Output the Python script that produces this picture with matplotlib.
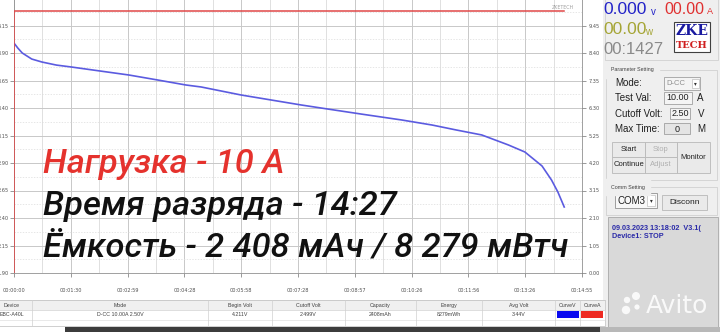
import matplotlib
matplotlib.use('Agg')
import matplotlib.pyplot as plt
from matplotlib.patches import Rectangle, Circle

W, H = 720, 332

# discharge curve (seconds, volts)
t_volt = [0, 6, 13, 28, 44, 67, 90, 136, 181, 226, 271, 295, 358, 453, 494,
          547, 611, 659, 697, 737, 779, 805, 832, 847, 857, 867]
volt = [3.99, 3.945, 3.90, 3.845, 3.818, 3.79, 3.773, 3.736, 3.70, 3.655, 3.609,
        3.591, 3.518, 3.427, 3.391, 3.345, 3.291, 3.245, 3.200, 3.155, 3.064,
        3.00, 2.873, 2.745, 2.636, 2.50]
# load current (seconds, amps)
t_curr = [0, 0, 867]
curr = [0.0, 10.0, 10.0]

x_ticks = [0, 89.5, 179, 268.5, 358, 447.5, 537, 626.5, 716, 805.5, 895]
x_labels = ['00:00:00', '00:01:30', '00:02:59', '00:04:28', '00:05:58', '00:07:28',
            '00:08:57', '00:10:26', '00:11:56', '00:13:26', '00:14:55']
v_ticks = [1.90, 2.15, 2.40, 2.65, 2.90, 3.15, 3.40, 3.65, 3.90, 4.15, 4.40]
v_labels = ['%.2f' % v for v in v_ticks]
c_ticks = [0.0, 1.05, 2.10, 3.15, 4.20, 5.25, 6.30, 7.35, 8.40, 9.45, 10.50]
c_labels = ['%.2f' % c for c in c_ticks]

columns = ['Device', 'Mode', 'Begin Volt', 'Cutoff Volt', 'Capacity', 'Energy',
           'Avg Volt', 'CurveV', 'CurveA']
row = ['EBC-A40L', 'D-CC 10.00A 2.50V', '4.211V', '2.499V', '2408mAh', '8279mWh',
       '3.44V', '', '']
col_edges = [-8, 32, 208, 272, 345, 416, 482, 555, 580, 605]

overlay = [('Нагрузка - 10 А', '#e5322d', 173),
           ('Время разряда - 14:27', '#111111', 215),
           ('Ёмкость - 2 408 мАч / 8 279 мВтч', '#111111', 256)]

UI_FONT = 'Liberation Sans'


def fbox(x0, y0, x1, y1):
    '''pixel box (top-left origin) -> figure fraction [l, b, w, h]'''
    return [x0 / W, 1 - y1 / H, (x1 - x0) / W, (y1 - y0) / H]


fig = plt.figure(figsize=(W / 100, H / 100), dpi=100)
fig.patch.set_facecolor('white')

# pixel-space layer for the window chrome
ui = fig.add_axes([0, 0, 1, 1])
ui.set_xlim(0, W)
ui.set_ylim(H, 0)
ui.axis('off')


def box(x0, y0, x1, y1, fc, ec='none', lw=0.6, z=1):
    ui.add_patch(Rectangle((x0, y0), x1 - x0, y1 - y0, facecolor=fc,
                           edgecolor=ec, linewidth=lw, zorder=z))


def label(x, y, s, size=6.5, color='#202020', ha='left', family=UI_FONT, **kw):
    ui.text(x, y, s, fontsize=size, color=color, ha=ha, va='center',
            family=family, zorder=5, **kw)


# right control panel
box(603, 0, 720, 332, '#efefef')
box(605, -2, 718, 60, 'none', '#d0d0d0')
label(603, 9, '0.000', 12.5, '#2323c8')
label(651, 12, 'v', 7, '#2323c8')
label(664, 9, '00.00', 11.5, '#e03030')
label(707, 12, 'A', 6.5, '#e03030')
label(603, 29, '00.00', 12.5, '#a5a535')
label(645, 32, 'w', 7, '#a5a535')
label(603, 49, '00:1427', 12, '#8a8a8a')
box(674, 22, 710, 52, 'white', '#404040', 0.8)
label(692, 31, 'ZKE', 10, '#1a1aa0', ha='center', weight='bold', family='DejaVu Serif')
label(692, 45, 'TECH', 7, '#d02020', ha='center', weight='bold', family='DejaVu Serif')

# parameter setting group
box(606, 70, 717, 180, 'none', '#d0d0d0')
label(611, 70, 'Parameter Setting', 3.8, '#404040', backgroundcolor='#efefef')
label(615, 83, 'Mode:', 7)
box(664, 77, 700, 90, '#f4f4f4', '#a0a0a0')
label(666, 83.5, 'D-CC', 5.5, '#909090')
box(692, 79, 699, 88, '#ffffff', '#b0b0b0', 0.4)
label(695.5, 83.5, '▾', 4, '#303030', ha='center', family='DejaVu Sans')
label(615, 98, 'Test Val:', 7)
box(664, 92, 692, 104, '#f4f4f4', '#a0a0a0')
label(678, 98, '10.00', 6.5, ha='center')
label(697, 98, 'A', 7)
label(615, 114, 'Cutoff Volt:', 7)
box(670, 108, 690, 119, '#f4f4f4', '#a0a0a0')
label(680, 114, '2.50', 6.5, ha='center')
label(698, 114, 'V', 7)
label(615, 129, 'Max Time:', 7)
box(664, 123, 690, 134, '#e4e4e4', '#a0a0a0')
label(677, 129, '0', 6.5, ha='center')
label(697, 129, 'M', 7)
for (bx0, by0, bx1, by1, txt, col) in [
        (612, 142, 645, 157, 'Start', '#202020'),
        (645, 142, 677, 157, 'Stop', '#b0b0b0'),
        (612, 157, 645, 173, 'Continue', '#202020'),
        (645, 157, 677, 173, 'Adjust', '#b0b0b0'),
        (677, 142, 710, 173, 'Monitor', '#202020')]:
    box(bx0, by0, bx1, by1, '#eaeaea', '#b8b8b8')
    label((bx0 + bx1) / 2, (by0 + by1) / 2, txt, 5.5, col, ha='center')

# comm setting group
box(606, 187, 717, 215, 'none', '#d0d0d0')
label(611, 187, 'Comm Setting', 3.8, '#404040', backgroundcolor='#efefef')
box(615, 193, 657, 208, '#f8f8f8', '#909090')
label(618, 200.5, 'COM3', 7)
box(647, 195, 655, 206, '#ffffff', '#b0b0b0', 0.4)
label(651, 200.5, '▾', 4, '#303030', ha='center', family='DejaVu Sans')
box(662, 195, 707, 210, '#eaeaea', '#b8b8b8')
label(684.5, 202.5, 'Disconn', 6, ha='center')

# log box with watermark
box(608, 217, 718, 327, '#d9d9d9', '#a8a8a8')
label(612, 228, '09.03.2023 13:18:02  V3.1(', 5.2, '#2a2aa8', weight='bold')
label(612, 237, 'Device1: STOP', 5.2, '#2a2aa8', weight='bold')
for (cx, cy, r) in [(627, 300, 3.2), (636, 296, 4.0), (626, 310, 4.2), (637, 307, 2.6)]:
    ui.add_patch(Circle((cx, cy), r, facecolor='white', alpha=0.85, zorder=6))
ui.text(677, 306, 'Avito', fontsize=18, color='white', alpha=0.85, ha='center',
        va='center', family='DejaVu Sans', zorder=6)

# result table
box(-2, 300, 605, 326, 'white', '#c8c8c8')
box(-2, 300, 605, 310, '#f0f0f0', '#c8c8c8')
box(-2, 310, 605, 320, 'white', '#d8d8d8', 0.4)
for i, name in enumerate(columns):
    x0, x1 = col_edges[i], col_edges[i + 1]
    ui.plot([x1, x1], [300, 326], color='#d0d0d0', lw=0.5, zorder=2)
    label((x0 + x1) / 2, 305.5, name, 3.8, '#404040', ha='center')
    label((x0 + x1) / 2, 315, row[i], 3.8, '#404040', ha='center')
box(557, 311, 579, 318, '#0a0af0', z=3)
box(581, 311, 603, 318, '#ee2a22', z=3)
box(65, 327, 600, 334, '#3c3c3c')
box(600, 327, 720, 334, '#b8b8b8')

# the chart itself
ax = fig.add_axes(fbox(14, -2, 582, 273))
ax.set_zorder(1)
ax.set_facecolor('white')
ax.plot(t_volt, volt, color='#5b5be0', lw=1.2, zorder=3)
ax.set_xlim(0, 895)
ax.set_ylim(1.90, 4.40)
ax.set_xticks(x_ticks, x_labels)
ax.set_xticks([x + 44.75 for x in x_ticks[:-1]], minor=True)
ax.set_yticks(v_ticks, v_labels)
ax.set_yticks([v + 0.125 for v in v_ticks[:-1]], minor=True)
ax.grid(which='major', color='#c8c8c8', lw=0.7)
ax.grid(which='minor', axis='x', color='#dadada', lw=0.6)
ax.grid(which='minor', axis='y', color='#dcdcdc', lw=0.5, ls=(0, (2, 2)))
ax.tick_params(axis='both', which='major', labelsize=3.6, labelcolor='#505050',
               color='#707070', length=3, width=0.5, pad=1)
ax.tick_params(axis='both', which='minor', length=0)
ax.tick_params(axis='x', pad=8)
for s in ax.spines.values():
    s.set_color('#909090')
    s.set_linewidth(0.6)
ax.spines['top'].set_visible(False)

ax2 = ax.twinx()
ax2.plot(t_curr, curr, color='#e04848', lw=1.1)
ax2.set_ylim(0, 10.5)
ax2.set_yticks(c_ticks, c_labels)
ax2.tick_params(axis='y', labelsize=3.6, labelcolor='#505050', color='#707070',
                length=3, width=0.5, pad=1.5)
for s in ax2.spines.values():
    s.set_visible(False)
ax.text(0.985, 0.965, 'ZKETECH', transform=ax.transAxes, fontsize=3.4,
        color='#a0a0a0', ha='right', va='center')

# overlay caption
for txt, col, ybase in overlay:
    fig.text(43 / W, 1 - ybase / H, txt, fontsize=24.8, color=col,
             family='Roboto', style='italic', weight='medium', va='baseline')

fig.savefig('out.png', dpi=100)
